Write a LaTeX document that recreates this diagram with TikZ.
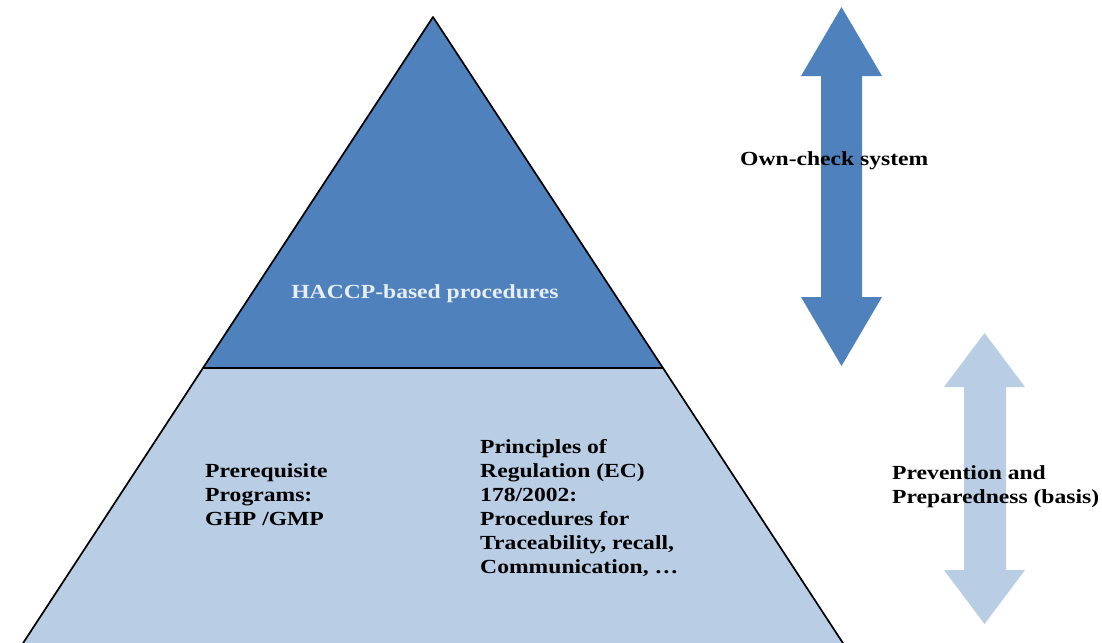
\documentclass[tikz,border=0pt]{standalone}
\usepackage{fontspec}
\setmainfont{Liberation Serif}
\definecolor{haccpblue}{HTML}{4F81BD}
\definecolor{basisblue}{HTML}{B9CDE5}
\definecolor{lighttext}{HTML}{E6EEF7}
\begin{document}
\begin{tikzpicture}[
  x=1pt, y=-1pt,
  txt/.style={font=\bfseries\fontsize{20}{24}\selectfont, inner sep=0pt, align=left, anchor=base west, transform shape, xscale=1.18},
  pyrline/.style={line width=1.7pt, line join=round}
]
  \useasboundingbox (0,0) rectangle (1102,642);
  \coordinate (apex) at (433,17);
  \coordinate (midL) at (203,368);
  \coordinate (midR) at (663,368);
  \coordinate (baseL) at (12,660);
  \coordinate (baseR) at (854,660);

  \fill[basisblue] (midL) -- (midR) -- (baseR) -- (baseL) -- cycle;
  \fill[haccpblue] (apex) -- (midR) -- (midL) -- cycle;
  \draw[pyrline] (baseL) -- (midL) -- (apex) -- (midR) -- (baseR);
  \draw[pyrline] (midL) -- (midR);

  \fill[haccpblue] (841.5,7) -- (882,76) -- (862,76) -- (862,297) -- (882,297) -- (841.5,366)
    -- (801,297) -- (821,297) -- (821,76) -- (801,76) -- cycle;
  \fill[basisblue] (984.5,333) -- (1025,387) -- (1006,387) -- (1006,570) -- (1025,570) -- (984.5,624)
    -- (944,570) -- (964,570) -- (964,387) -- (944,387) -- cycle;

  \node[txt, text=lighttext, anchor=base] (haccp) at (425,298) {HACCP-based procedures};
  \node[txt] (prp) at (205,525) {Prerequisite\\Programs:\\GHP /GMP};
  \node[txt] (principles) at (480,573) {Principles of\\Regulation (EC)\\178/2002:\\Procedures for\\Traceability, recall,\\Communication, …};
  \node[txt] (owncheck) at (740,165) {Own-check system};
  \node[txt] (prevention) at (892,503) {Prevention and\\Preparedness (basis)};
\end{tikzpicture}
\end{document}
